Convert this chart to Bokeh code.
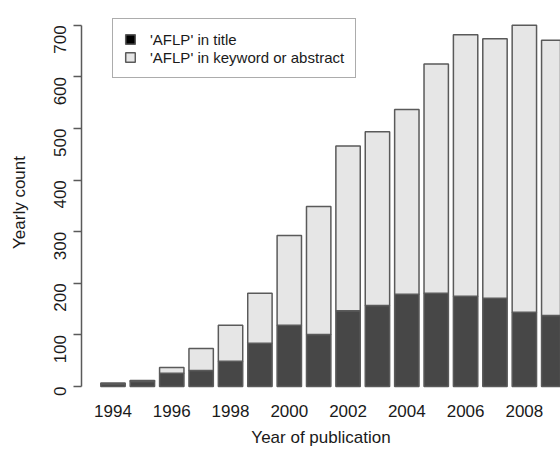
import math
from bokeh.plotting import figure
from bokeh.models import Range1d, FixedTicker, Legend, LegendItem, ColumnDataSource
from bokeh.embed import file_html
from bokeh.resources import INLINE

years = [1994, 1995, 1996, 1997, 1998, 1999, 2000, 2001,
         2002, 2003, 2004, 2005, 2006, 2007, 2008, 2009]
title_counts = [5, 10, 26, 31, 49, 84, 119, 101, 147, 157, 179, 181, 175, 171, 144, 138]
keyword_counts = [2, 2, 11, 43, 70, 97, 174, 248, 319, 337, 358, 444, 507, 503, 556, 533]
x_tick_years = [1994, 1996, 1998, 2000, 2002, 2004, 2006, 2008]
y_ticks = [0, 100, 200, 300, 400, 500, 600, 700]
series_labels = ["'AFLP' in title", "'AFLP' in keyword or abstract"]

FONT = "Liberation Sans"
DARK = "#474747"
LIGHT = "#e6e6e6"
EDGE = "#5a5a5a"

p = figure(width=560, height=449, output_backend="svg", toolbar_location=None,
           x_range=Range1d(1992.928, 2009.23), y_range=Range1d(-15.3, 728.8),
           min_border_left=81, min_border_right=0, min_border_top=10, min_border_bottom=51)
p.outline_line_color = None
p.grid.visible = False
p.background_fill_color = "white"

source = ColumnDataSource(dict(year=years, title=title_counts, keyword=keyword_counts))
bars = p.vbar_stack(["title", "keyword"], x="year", width=0.83, source=source,
                    fill_color=[DARK, LIGHT], line_color=EDGE, line_width=1.5)

# legend key proxy (the title key is drawn black in the original); its bar is not drawn (NaN)
proxy_src = ColumnDataSource(dict(x=[float("nan")], top=[float("nan")]))
proxy = p.vbar(x="x", top="top", width=0.83, source=proxy_src,
               fill_color="black", line_color=EDGE, line_width=1.5)

legend = Legend(items=[LegendItem(label=series_labels[0], renderers=[proxy]),
                       LegendItem(label=series_labels[1], renderers=[bars[1]])],
                location=(31, 316))
legend.label_text_font = FONT
legend.label_text_font_size = "15px"
legend.label_text_color = "#1a1a1a"
legend.glyph_width = 12
legend.glyph_height = 12
legend.label_height = 18
legend.label_standoff = 14
legend.spacing = 0
legend.padding = 11
legend.margin = 0
legend.border_line_color = "#5a5a5a"
legend.border_line_width = 1.5
legend.background_fill_color = "white"
legend.background_fill_alpha = 1.0
p.add_layout(legend)

# x axis
xa = p.xaxis[0]
xa.ticker = FixedTicker(ticks=x_tick_years)
xa.axis_line_color = None
xa.major_tick_line_color = None
xa.minor_tick_line_color = None
xa.major_label_text_font = FONT
xa.major_label_text_font_size = "17px"
xa.major_label_text_color = "#1a1a1a"
xa.major_label_standoff = 4
xa.axis_label = "Year of publication"
xa.axis_label_text_font = FONT
xa.axis_label_text_font_size = "17px"
xa.axis_label_text_font_style = "normal"
xa.axis_label_text_color = "#1a1a1a"
xa.axis_label_standoff = 8

# y axis
ya = p.yaxis[0]
ya.ticker = FixedTicker(ticks=y_ticks)
ya.bounds = (0, 700)
ya.axis_line_color = "#5a5a5a"
ya.axis_line_width = 1.5
ya.major_tick_line_color = "#5a5a5a"
ya.major_tick_line_width = 1.5
ya.major_tick_out = 8
ya.major_tick_in = 0
ya.minor_tick_line_color = None
ya.major_label_orientation = math.pi / 2
ya.major_label_text_font = FONT
ya.major_label_text_font_size = "17px"
ya.major_label_text_color = "#1a1a1a"
ya.major_label_standoff = 13
ya.axis_label = "Yearly count"
ya.axis_label_text_font = FONT
ya.axis_label_text_font_size = "17px"
ya.axis_label_text_font_style = "normal"
ya.axis_label_text_color = "#1a1a1a"
ya.axis_label_standoff = 17

open("out.html", "w").write(file_html(p, INLINE))
